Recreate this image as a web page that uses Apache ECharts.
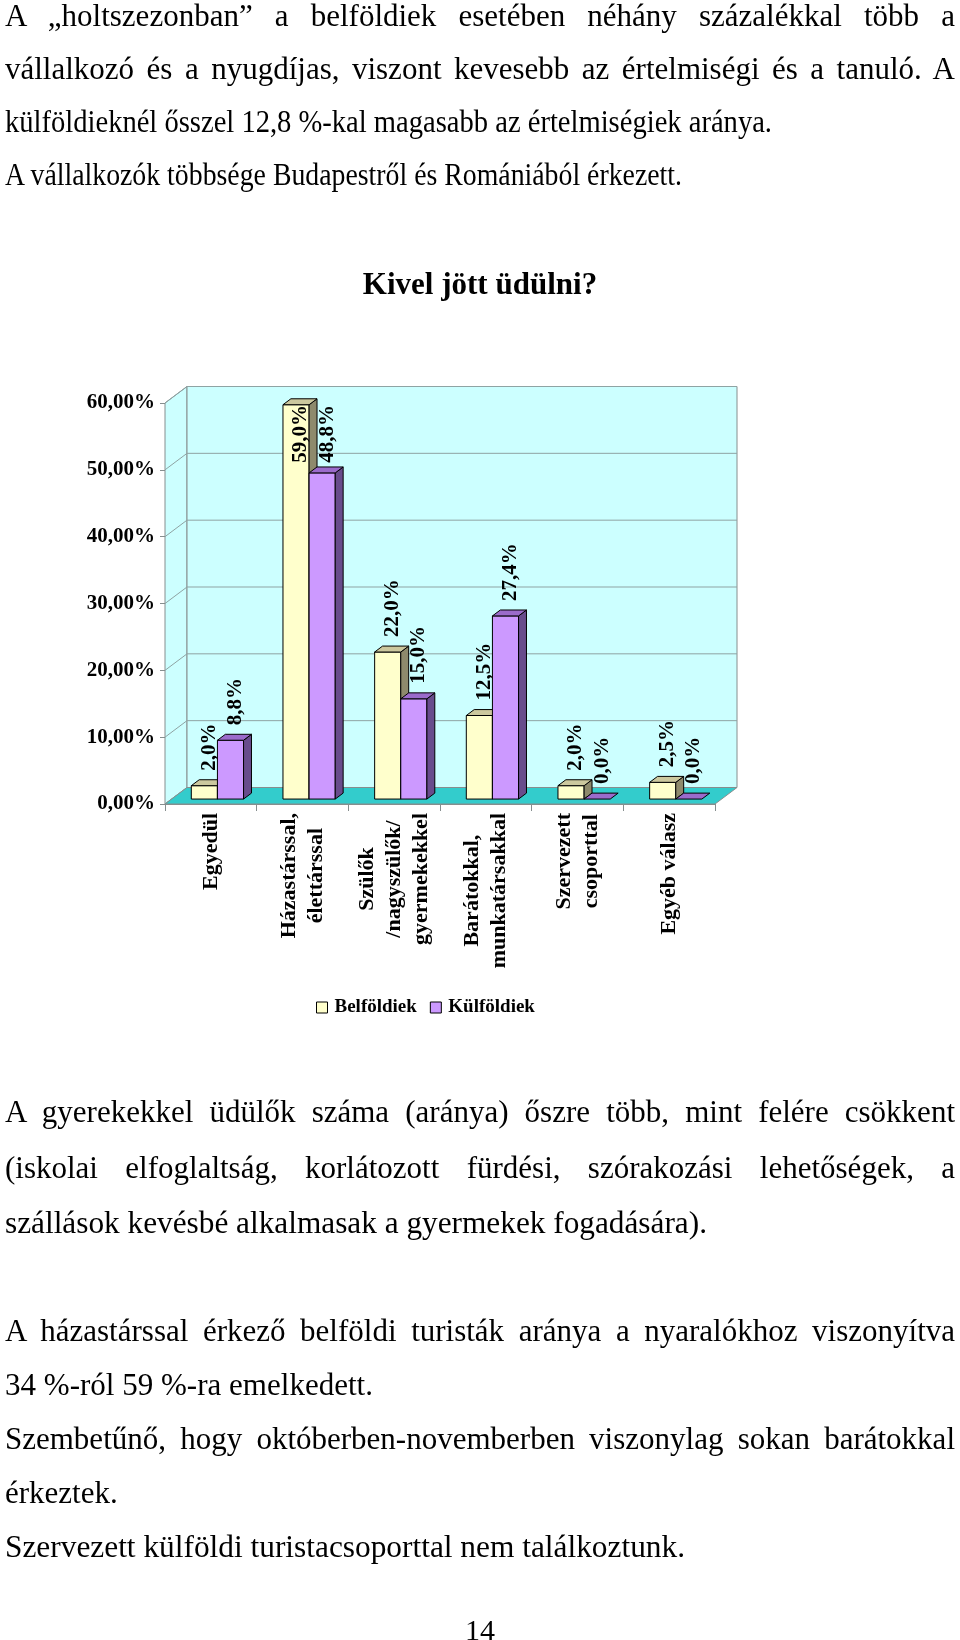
<!DOCTYPE html>
<html>
<head>
<meta charset="utf-8">
<script src="https://cdn.jsdelivr.net/npm/echarts/dist/echarts.min.js"></script>
<style>
html,body{margin:0;padding:0;background:#fff;}
#page{position:relative;width:960px;height:1640px;overflow:hidden;background:#fff;}
#chart{position:absolute;left:0;top:0;width:960px;height:1640px;}
.ln{position:absolute;left:5px;width:950px;font-family:"Liberation Serif","Times New Roman",serif;font-size:31px;line-height:31px;color:#000;white-space:nowrap;}
.ln.j{text-align:justify;text-align-last:justify;white-space:normal;}
.ln.c{text-align:center;left:0;width:960px;font-size:30px;}
.ln span{display:inline-block;transform-origin:0 50%;}
</style>
</head>
<body>
<div id="page">
  <div id="chart"></div>
  <div id="text"></div>
</div>
<script>
// ---- data ----
const categories = ['Egyedül', 'Házastárssal,\nélettárssal', 'Szülők\n/nagyszülők/\ngyermekekkel', 'Barátokkal,\nmunkatársakkal', 'Szervezett\ncsoporttal', 'Egyéb válasz'];
const belfoldiek = [2.0, 59.0, 22.0, 12.5, 2.0, 2.5];
const kulfoldiek = [8.8, 48.8, 15.0, 27.4, 0.0, 0.0];
const yTicks = [0, 10, 20, 30, 40, 50, 60];
const seriesNames = ['Belföldiek', 'Külföldiek'];
const chartTitle = 'Kivel jött üdülni?';

const topLines = [
  'A „holtszezonban” a belföldiek esetében néhány százalékkal több a',
  'vállalkozó és a nyugdíjas, viszont kevesebb az értelmiségi és a tanuló. A',
  'külföldieknél ősszel 12,8 %-kal magasabb az értelmiségiek aránya.',
  'A vállalkozók többsége Budapestről és Romániából érkezett.'
];
const bottomLines = [
  'A gyerekekkel üdülők száma (aránya) őszre több, mint felére csökkent',
  '(iskolai elfoglaltság, korlátozott fürdési, szórakozási lehetőségek, a',
  'szállások kevésbé alkalmasak a gyermekek fogadására).',
  'A házastárssal érkező belföldi turisták aránya a nyaralókhoz viszonyítva',
  '34 %-ról 59 %-ra emelkedett.',
  'Szembetűnő, hogy októberben-novemberben viszonylag sokan barátokkal',
  'érkeztek.',
  'Szervezett külföldi turistacsoporttal nem találkoztunk.'
];
const pageNumber = '14';

// ---- page text layout: [text, baseline, mode, target width or 0] ----
const textLayout = [
  [topLines[0], 26, 'j', 0], [topLines[1], 79, 'j', 0], [topLines[2], 132, '', 767], [topLines[3], 185, '', 677],
  [bottomLines[0], 1122, 'j', 0], [bottomLines[1], 1178, 'j', 0], [bottomLines[2], 1233, '', 702],
  [bottomLines[3], 1341, 'j', 0], [bottomLines[4], 1395, '', 368],
  [bottomLines[5], 1449, 'j', 0], [bottomLines[6], 1503, '', 0],
  [bottomLines[7], 1557, '', 680],
  [pageNumber, 1640, 'c', 0]
];
const textHost = document.getElementById('text');
textLayout.forEach(function (t) {
  const d = document.createElement('div');
  d.className = 'ln ' + t[2];
  d.style.top = (t[1] - 26) + 'px';
  if (t[3] > 0) {
    const sp = document.createElement('span');
    sp.textContent = t[0];
    d.appendChild(sp);
    textHost.appendChild(d);
    const nat = sp.getBoundingClientRect().width;
    if (nat > 0) sp.style.transform = 'scaleX(' + (t[3] / nat) + ')';
  } else {
    d.textContent = t[0];
    textHost.appendChild(d);
  }
});

// ---- chart ----
const SERIF = '"Liberation Serif", "Times New Roman", serif';
const WDX = 22, WDY = -16.5;      // depth of the 3D walls
const BZ0 = 0.3, BDZ = 0.36;      // bar front depth and bar thickness (fraction of wall depth)
const BARW = 0.285;               // bar width as fraction of category band
const GRID_COLOR = '#8FA3A3';
const EDGE_COLOR = '#868E8E';
const LABEL_SIZE = 21;

const measureCtx = document.createElement('canvas').getContext('2d');
measureCtx.font = 'bold ' + LABEL_SIZE + 'px ' + SERIF;
function textLen(s) { return measureCtx.measureText(s).width; }
function fmtPct(v, d) { return v.toFixed(d).replace('.', ',') + '%'; }

function renderFrame(params, api) {
  const cs = params.coordSys;
  const L = cs.x, R = cs.x + cs.width, T = cs.y, B = cs.y + cs.height;
  const children = [];
  const wall = { fill: '#CCFFFF', stroke: EDGE_COLOR, lineWidth: 1 };
  children.push({ type: 'polygon', shape: { points: [[L, B], [L, T], [L + WDX, T + WDY], [L + WDX, B + WDY]] }, style: wall });
  children.push({ type: 'polygon', shape: { points: [[L + WDX, T + WDY], [R + WDX, T + WDY], [R + WDX, B + WDY], [L + WDX, B + WDY]] }, style: wall });
  yTicks.forEach(function (v) {
    const y = api.coord([0, v])[1];
    children.push({ type: 'line', shape: { x1: L + WDX, y1: y + WDY, x2: R + WDX, y2: y + WDY }, style: { stroke: GRID_COLOR, lineWidth: 1 } });
    children.push({ type: 'line', shape: { x1: L, y1: y, x2: L + WDX, y2: y + WDY }, style: { stroke: GRID_COLOR, lineWidth: 1 } });
  });
  children.push({ type: 'polygon', shape: { points: [[L, B], [R, B], [R + WDX, B + WDY], [L + WDX, B + WDY]] }, style: { fill: '#33CCCC', stroke: EDGE_COLOR, lineWidth: 1 } });
  return { type: 'group', children: children };
}

function makeBarRender(s, pal) {
  return function (params, api) {
    const c = api.value(0), v = api.value(1);
    const T = params.coordSys.y;
    const bw = api.size([1, 0])[0];
    const w = bw * BARW;
    const base = api.coord([c, 0]);
    const top = api.coord([c, v]);
    const ox = WDX * BZ0, oy = WDY * BZ0;
    const x0 = base[0] - w + s * w + ox, x1 = x0 + w;
    const yb = base[1] + oy, yt = top[1] + oy;
    const dx = WDX * BDZ, dy = WDY * BDZ;
    const st = function (fill) { return { fill: fill, stroke: '#000', lineWidth: 1, lineJoin: 'round' }; };
    const children = [];
    if (yb - yt > 0.5) {
      children.push({ type: 'rect', shape: { x: x0, y: yt, width: w, height: yb - yt }, style: st(pal.front) });
      children.push({ type: 'polygon', shape: { points: [[x1, yt], [x1 + dx, yt + dy], [x1 + dx, yb + dy], [x1, yb]] }, style: st(pal.side) });
    }
    children.push({ type: 'polygon', shape: { points: [[x0, yt], [x1, yt], [x1 + dx, yt + dy], [x0 + dx, yt + dy]] }, style: st(pal.top) });
    const label = fmtPct(v, 1);
    const len = textLen(label);
    const cx = x0 + w / 2 + 5;
    let anchor = yt - 15, align = 'left';
    const topLimit = T + 2;
    if (anchor - len < topLimit) { anchor = topLimit; align = 'right'; }
    children.push({
      type: 'text', x: cx, y: anchor, rotation: Math.PI / 2, z2: 20,
      style: { text: label, fill: '#000', fontFamily: SERIF, fontWeight: 'bold', fontSize: LABEL_SIZE, align: align, verticalAlign: 'middle' }
    });
    return { type: 'group', children: children };
  };
}

const palettes = [
  { front: '#FFFFCC', top: '#CCC89E', side: '#8E8A6C' },
  { front: '#CC99FF', top: '#9B6BCB', side: '#684C8C' }
];

const chart = echarts.init(document.getElementById('chart'), null, { renderer: 'canvas' });
chart.setOption({
  animation: false,
  backgroundColor: 'transparent',
  title: {
    text: chartTitle, left: 'center', top: 270, padding: 0,
    textStyle: { fontFamily: SERIF, fontWeight: 'bold', fontSize: 31, color: '#000' }
  },
  legend: {
    data: seriesNames, left: 311, top: 993, icon: 'rect', itemWidth: 11, itemHeight: 11, itemGap: 13,
    itemStyle: { borderColor: '#000', borderWidth: 1 },
    textStyle: { fontFamily: SERIF, fontWeight: 'bold', fontSize: 19, color: '#000', padding: [0, 0, 0, 2] }
  },
  grid: { left: 165, right: 245, top: 403, bottom: 836, containLabel: false },
  xAxis: {
    type: 'category', data: categories, boundaryGap: true,
    axisLine: { show: true, lineStyle: { color: EDGE_COLOR } },
    axisTick: { show: true, length: 7, lineStyle: { color: EDGE_COLOR } },
    axisLabel: {
      interval: 0, rotate: 90, margin: 9, color: '#000',
      formatter: function (v) { return v.split('\n').map(function (s) { return '{c|' + s + '}'; }).join('\n'); },
      rich: { c: { align: 'center', fontFamily: SERIF, fontWeight: 'bold', fontSize: 22, lineHeight: 27, color: '#000' } }
    },
    splitLine: { show: false }
  },
  yAxis: {
    type: 'value', min: yTicks[0], max: yTicks[yTicks.length - 1], interval: 10,
    axisLine: { show: true, lineStyle: { color: EDGE_COLOR } },
    axisTick: { show: true, length: 5, lineStyle: { color: EDGE_COLOR } },
    axisLabel: { margin: 10, color: '#000', fontFamily: SERIF, fontWeight: 'bold', fontSize: 21, formatter: function (v) { return fmtPct(v, 2); } },
    splitLine: { show: false }
  },
  series: [
    { type: 'custom', name: 'frame', renderItem: renderFrame, data: [[0, 0]], silent: true, z: 1, clip: false },
    { type: 'custom', name: seriesNames[0], renderItem: makeBarRender(0, palettes[0]), data: belfoldiek.map(function (v, i) { return [i, v]; }), encode: { x: 0, y: 1 }, itemStyle: { color: palettes[0].front, borderColor: '#000' }, z: 2, clip: false },
    { type: 'custom', name: seriesNames[1], renderItem: makeBarRender(1, palettes[1]), data: kulfoldiek.map(function (v, i) { return [i, v]; }), encode: { x: 0, y: 1 }, itemStyle: { color: palettes[1].front, borderColor: '#000' }, z: 3, clip: false }
  ]
});
</script>
</body>
</html>
